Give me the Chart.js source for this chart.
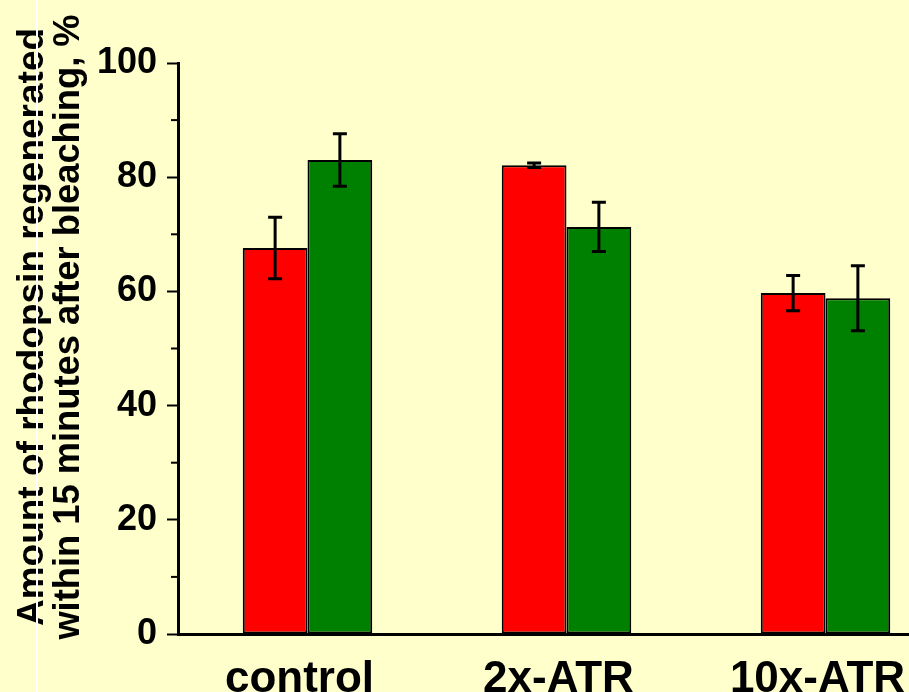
<!DOCTYPE html>
<html>
<head>
<meta charset="utf-8">
<script src="https://cdn.jsdelivr.net/npm/chart.js@4"></script>
<style>
  html, body { margin: 0; padding: 0; background: #ffffcc; overflow: hidden; }
  #wrap { position: absolute; left: 0; top: 0; width: 960px; height: 692px; }
</style>
</head>
<body>
<div id="wrap"><canvas id="myChart" width="960" height="692"></canvas></div>
<script>
// Chart data
const categories = ['control', '2x-ATR', '10x-ATR'];
const redValues = [67.6, 82.1, 59.7];
const redErrors = [5.4, 0.4, 3.1];
const greenValues = [83.0, 71.3, 58.8];
const greenErrors = [4.6, 4.3, 5.7];
const yTicks = [0, 20, 40, 60, 80, 100];
const yMinorTicks = [10, 30, 50, 70, 90];
const yTitleLines = ['Amount of rhodopsin regenerated', 'within 15 minutes after bleaching, %'];

const fontFamily = 'Arial, "Liberation Sans", sans-serif';

// error bars, minor ticks and the axis title are drawn here
const extrasPlugin = {
    id: 'extras',
    afterDatasetsDraw(chart) {
        const ctx = chart.ctx;
        const yScale = chart.scales.y;
        const errors = [redErrors, greenErrors];
        ctx.save();
        ctx.strokeStyle = '#000';
        ctx.lineWidth = 3;
        chart.data.datasets.forEach((ds, i) => {
            const meta = chart.getDatasetMeta(i);
            meta.data.forEach((bar, j) => {
                const v = ds.data[j];
                const e = errors[i][j];
                const top = yScale.getPixelForValue(v + e);
                const bottom = yScale.getPixelForValue(v - e);
                ctx.beginPath();
                ctx.moveTo(bar.x, top);
                ctx.lineTo(bar.x, bottom);
                ctx.moveTo(bar.x - 7, top);
                ctx.lineTo(bar.x + 7, top);
                ctx.moveTo(bar.x - 7, bottom);
                ctx.lineTo(bar.x + 7, bottom);
                ctx.stroke();
            });
        });
        ctx.restore();
    },
    afterDraw(chart) {
        const ctx = chart.ctx;
        const yScale = chart.scales.y;
        const left = chart.chartArea.left;
        ctx.save();
        // minor ticks
        ctx.strokeStyle = '#000';
        ctx.lineWidth = 2;
        yMinorTicks.forEach(t => {
            const y = yScale.getPixelForValue(t);
            ctx.beginPath();
            ctx.moveTo(left - 7, y);
            ctx.lineTo(left, y);
            ctx.stroke();
        });
        // y axis title, two rotated lines
        ctx.fillStyle = '#000';
        ctx.textAlign = 'center';
        ctx.textBaseline = 'alphabetic';
        const baselines = [43, 79];
        const sizes = [37, 36.3];
        yTitleLines.forEach((line, i) => {
            ctx.save();
            ctx.font = 'bold ' + sizes[i] + 'px ' + fontFamily;
            ctx.translate(baselines[i], 327);
            ctx.rotate(-Math.PI / 2);
            ctx.fillText(line, 0, 0);
            ctx.restore();
        });
        // thin white line on the left
        ctx.fillStyle = '#ffffff';
        ctx.fillRect(36, 0, 2, chart.height);
        ctx.restore();
    }
};

const ctx = document.getElementById('myChart').getContext('2d');
const myChart = new Chart(ctx, {
    type: 'bar',
    data: {
        labels: categories,
        datasets: [{
            data: redValues,
            backgroundColor: '#ff0000',
            borderColor: '#000000',
            borderWidth: 2,
            borderSkipped: false
        }, {
            data: greenValues,
            backgroundColor: '#008000',
            borderColor: '#000000',
            borderWidth: 2,
            borderSkipped: false
        }]
    },
    options: {
        responsive: false,
        animation: false,
        layout: { padding: { top: 63, right: 5, left: 0, bottom: 0 } },
        plugins: {
            legend: { display: false },
            tooltip: { enabled: false }
        },
        datasets: {
            bar: { categoryPercentage: 0.5, barPercentage: 1.0 }
        },
        scales: {
            x: {
                grid: { display: false },
                border: { display: true, color: '#000', width: 3 },
                ticks: {
                    color: '#000',
                    padding: 11,
                    labelOffset: -8,
                    font: { family: fontFamily, size: 44, weight: 'bold' }
                },
                afterFit(scale) { scale.height = 58; }
            },
            y: {
                min: 0,
                max: 100,
                afterBuildTicks(scale) {
                    scale.ticks = yTicks.map(v => ({ value: v }));
                },
                grid: {
                    drawOnChartArea: false,
                    drawTicks: true,
                    tickLength: 11,
                    tickWidth: 2,
                    color: '#000'
                },
                border: { display: true, color: '#000', width: 3 },
                ticks: {
                    color: '#000',
                    padding: 10,
                    font: { family: fontFamily, size: 36, weight: 'bold' }
                },
                afterFit(scale) { scale.width = 178; }
            }
        }
    },
    plugins: [extrasPlugin]
});
</script>
</body>
</html>
